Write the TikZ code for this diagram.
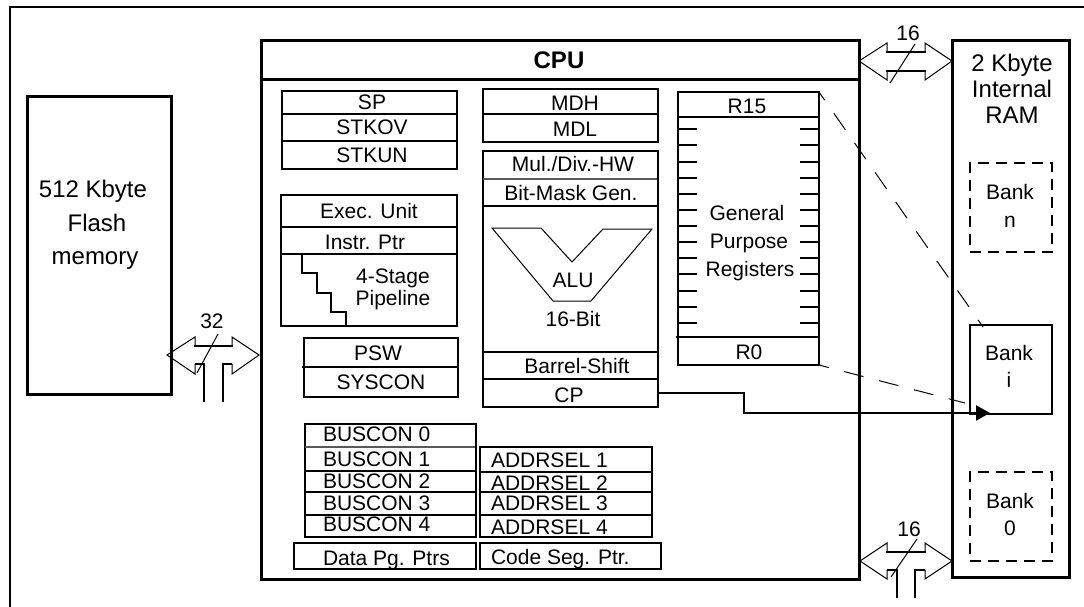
\documentclass[tikz,border=0pt]{standalone}
\usepackage{fontspec}
\setmainfont{Liberation Sans}
\usetikzlibrary{arrows.meta}
\tikzset{
  every node/.style={inner sep=0pt,outer sep=0pt},
  framebox/.style={draw=black,line width=3pt,rectangle,anchor=north west},
  regbox/.style={draw=black,line width=2pt,rectangle,anchor=north west},
  bankdash/.style={draw=black,line width=1.8pt,rectangle,anchor=north west,dash pattern=on 11pt off 7pt},
  divider/.style={draw=black,line width=2pt},
  softdivider/.style={draw=black!65,line width=1.2pt},
  tick/.style={draw=black,line width=2pt},
  thinline/.style={draw=black,line width=1pt,line join=miter},
  busbar/.style={draw=black,line width=2.2pt},
  bankline/.style={draw=black,line width=1pt,dash pattern=on 20pt off 16pt,dash phase=10pt},
  txt/.style={anchor=base,font=\fontsize{21}{24}\selectfont},
  bigtxt/.style={anchor=base,font=\fontsize{24}{28}\selectfont},
  lefttxt/.style={anchor=base west,font=\fontsize{21}{24}\selectfont},
}
\newcommand{\bx}[6]{\node[#1,minimum width={(#5-#3)*1pt},minimum height={(#6-#4)*1pt}] (#2) at (#3,#4) {};}
\newcommand{\tx}[4]{\node[txt] (#1) at (#2,#3+7.5) {#4};}
\newcommand{\tb}[4]{\node[bigtxt] (#1) at (#2,#3+8.5) {#4};}
\newcommand{\tl}[4]{\node[lefttxt] (#1) at (#2,#3+7.5) {#4};}
\newcommand{\hl}[3]{\draw[divider] (#1,#3) -- (#2,#3);}
\begin{document}
\begin{tikzpicture}[x=1pt,y=-1pt]
\useasboundingbox (0,0) rectangle (1084,607);
% outer frame
\draw[line width=2.2pt] (1084,7) -- (10,7) -- (10,607);
% main blocks
\bx{framebox}{flash}{27}{97}{171}{394}
\tb{flasha}{93}{189}{512 Kbyte}
\tb{flashb}{97}{223}{Flash}
\tb{flashc}{95}{256}{memory}
\bx{framebox}{cpu}{261}{41}{859}{579}
\draw[line width=3pt] (261,80) -- (859,80);
\node[anchor=base,font=\fontsize{24}{28}\selectfont\bfseries] (cpulabel) at (559,69) {CPU};
\bx{framebox}{ram}{952}{41}{1069}{577}
\tb{rama}{1012}{63}{2 Kbyte}
\tb{ramb}{1012}{89}{Internal}
\tb{ramc}{1012}{115}{RAM}
% stack regs
\bx{regbox}{spstack}{282}{91}{457}{169}
\hl{282}{457}{114}\hl{282}{457}{141}
\tx{sp}{372}{102}{SP}
\tx{stkov}{372}{127}{STKOV}
\tx{stkun}{372}{155}{STKUN}
% exec
\bx{regbox}{exec}{281}{195}{457}{326}
\hl{281}{457}{227}\hl{281}{457}{254}
\draw[divider] (302,254) -- (302,273) -- (317,273) -- (317,293) -- (331,293) -- (331,312) -- (346,312) -- (346,327);
\tx{execu}{369}{211}{Exec. Unit}
\tx{instr}{365}{242}{Instr. Ptr}
\tx{stage}{393}{276}{4-Stage}
\tx{pipe}{393}{298}{Pipeline}
% psw
\bx{regbox}{psw}{304}{338}{458}{397}
\hl{302}{458}{367}
\tx{pswt}{378}{353}{PSW}
\tx{sysc}{381}{382}{SYSCON}
% md
\bx{regbox}{md}{483}{89}{658}{142}
\hl{483}{658}{114}
\tx{mdh}{575}{103}{MDH}
\tx{mdl}{575}{129}{MDL}
% alu column
\bx{regbox}{alucol}{483}{151}{658}{379}
\draw[softdivider] (483,179) -- (657,179);
\hl{483}{658}{206}\hl{483}{658}{352}
\tx{mul}{573}{164}{Mul./Div.-HW}
\tx{bit}{571}{193}{Bit-Mask Gen.}
\draw[thinline] (492,228) -- (541,228) -- (572,262) -- (603,229) -- (652,229) -- (591,301) -- (553,301) -- cycle;
\tx{alu}{573}{280}{ALU}
\tx{bits}{573}{319}{16-Bit}
\tx{barrel}{577}{366}{Barrel-Shift}
\bx{regbox}{cp}{483}{379}{658}{407}
\tx{cpt}{569}{395}{CP}
% registers
\bx{regbox}{regs}{678}{92}{819}{365}
\hl{678}{819}{117}\hl{676}{819}{337}
\foreach \k in {0,...,12}{
  \draw[tick] (678,129.3+\k*16.13) -- (697,129.3+\k*16.13);
  \draw[tick] (800,129.3+\k*16.13) -- (819,129.3+\k*16.13);
}
\tx{r15}{747}{106}{R15}
\tx{r0}{749}{352}{R0}
\tx{gen}{747}{213}{General}
\tx{pur}{749}{241}{Purpose}
\tx{reg}{750}{269}{Registers}
% buscon
\bx{regbox}{buscon}{305}{424}{476}{537}
\draw[softdivider] (305,447) -- (475,447);
\hl{305}{476}{471}\hl{305}{476}{492}\hl{305}{476}{515}
\tl{bc0}{323}{434}{BUSCON 0}
\tl{bc1}{323}{459}{BUSCON 1}
\tl{bc2}{323}{481}{BUSCON 2}
\tl{bc3}{323}{503}{BUSCON 3}
\tl{bc4}{323}{524}{BUSCON 4}
\bx{regbox}{addr}{480}{447}{652}{537}
\hl{480}{652}{472}\hl{480}{652}{492}\hl{480}{652}{515}
\tl{as1}{491}{460}{ADDRSEL 1}
\tl{as2}{491}{483}{ADDRSEL 2}
\tl{as3}{491}{503}{ADDRSEL 3}
\tl{as4}{491}{527}{ADDRSEL 4}
\bx{regbox}{data}{294}{543}{476}{569}
\tl{datat}{323}{558}{Data Pg. Ptrs}
\bx{regbox}{code}{480}{543}{661}{569}
\tl{codet}{491}{557}{Code Seg. Ptr.}
% banks
\bx{bankdash}{bankn}{970}{163}{1052}{252}
\tx{bna}{1010}{192}{Bank}
\tx{bnb}{1010}{220}{n}
\bx{regbox}{banki}{970}{325}{1052}{414}
\tx{bia}{1009}{353}{Bank}
\tx{bib}{1009}{380}{i}
\bx{bankdash}{bank0}{970}{472}{1052}{561}
\tx{b0a}{1010}{501}{Bank}
\tx{b0b}{1010}{528}{0}
% connectors
\coordinate (dashA) at (983,327);
\coordinate (dashB) at (965,403);
\coordinate (cpend) at (990,413);
\draw[bankline] (regs.north east) -- (dashA);
\draw[bankline] (regs.south east) -- (dashB);
\draw[draw=black,line width=2.2pt,-{Triangle[length=14pt,width=15pt]}] (cp.east) -- ++(86,0) |- (cpend);
% bus 32
\draw[thinline] (195,346) -- (195,337) -- (167,355) -- (195,374) -- (195,364);
\draw[thinline] (232,346) -- (232,337) -- (259,355) -- (232,374) -- (232,364);
\draw[busbar] (194,346) -- (233,346);
\draw[busbar] (195,364) -- (204,364) -- (204,402);
\draw[busbar] (232,364) -- (223,364) -- (223,402);
\draw[thinline] (218,334) -- (197,373);
\tx{b32}{212}{321}{32}
% top bus 16
\draw[thinline] (887,52) -- (887,43) -- (859,61) -- (887,80) -- (887,71);
\draw[thinline] (925,52) -- (925,43) -- (952,61) -- (925,80) -- (925,71);
\draw[busbar] (886,52) -- (926,52);
\draw[busbar] (886,71) -- (926,71);
\draw[thinline] (915,44) -- (890,83);
\tx{b16a}{908}{33}{16}
% bottom bus 16
\draw[thinline] (887,552) -- (887,543) -- (860,561) -- (887,579) -- (887,570);
\draw[thinline] (925,552) -- (925,543) -- (952,561) -- (925,579) -- (925,570);
\draw[busbar] (886,552) -- (926,552);
\draw[busbar] (887,570) -- (897,570) -- (897,598);
\draw[busbar] (925,570) -- (915,570) -- (915,598);
\draw[thinline] (917,539) -- (891,577);
\tx{b16b}{909}{529}{16}
\end{tikzpicture}
\end{document}
